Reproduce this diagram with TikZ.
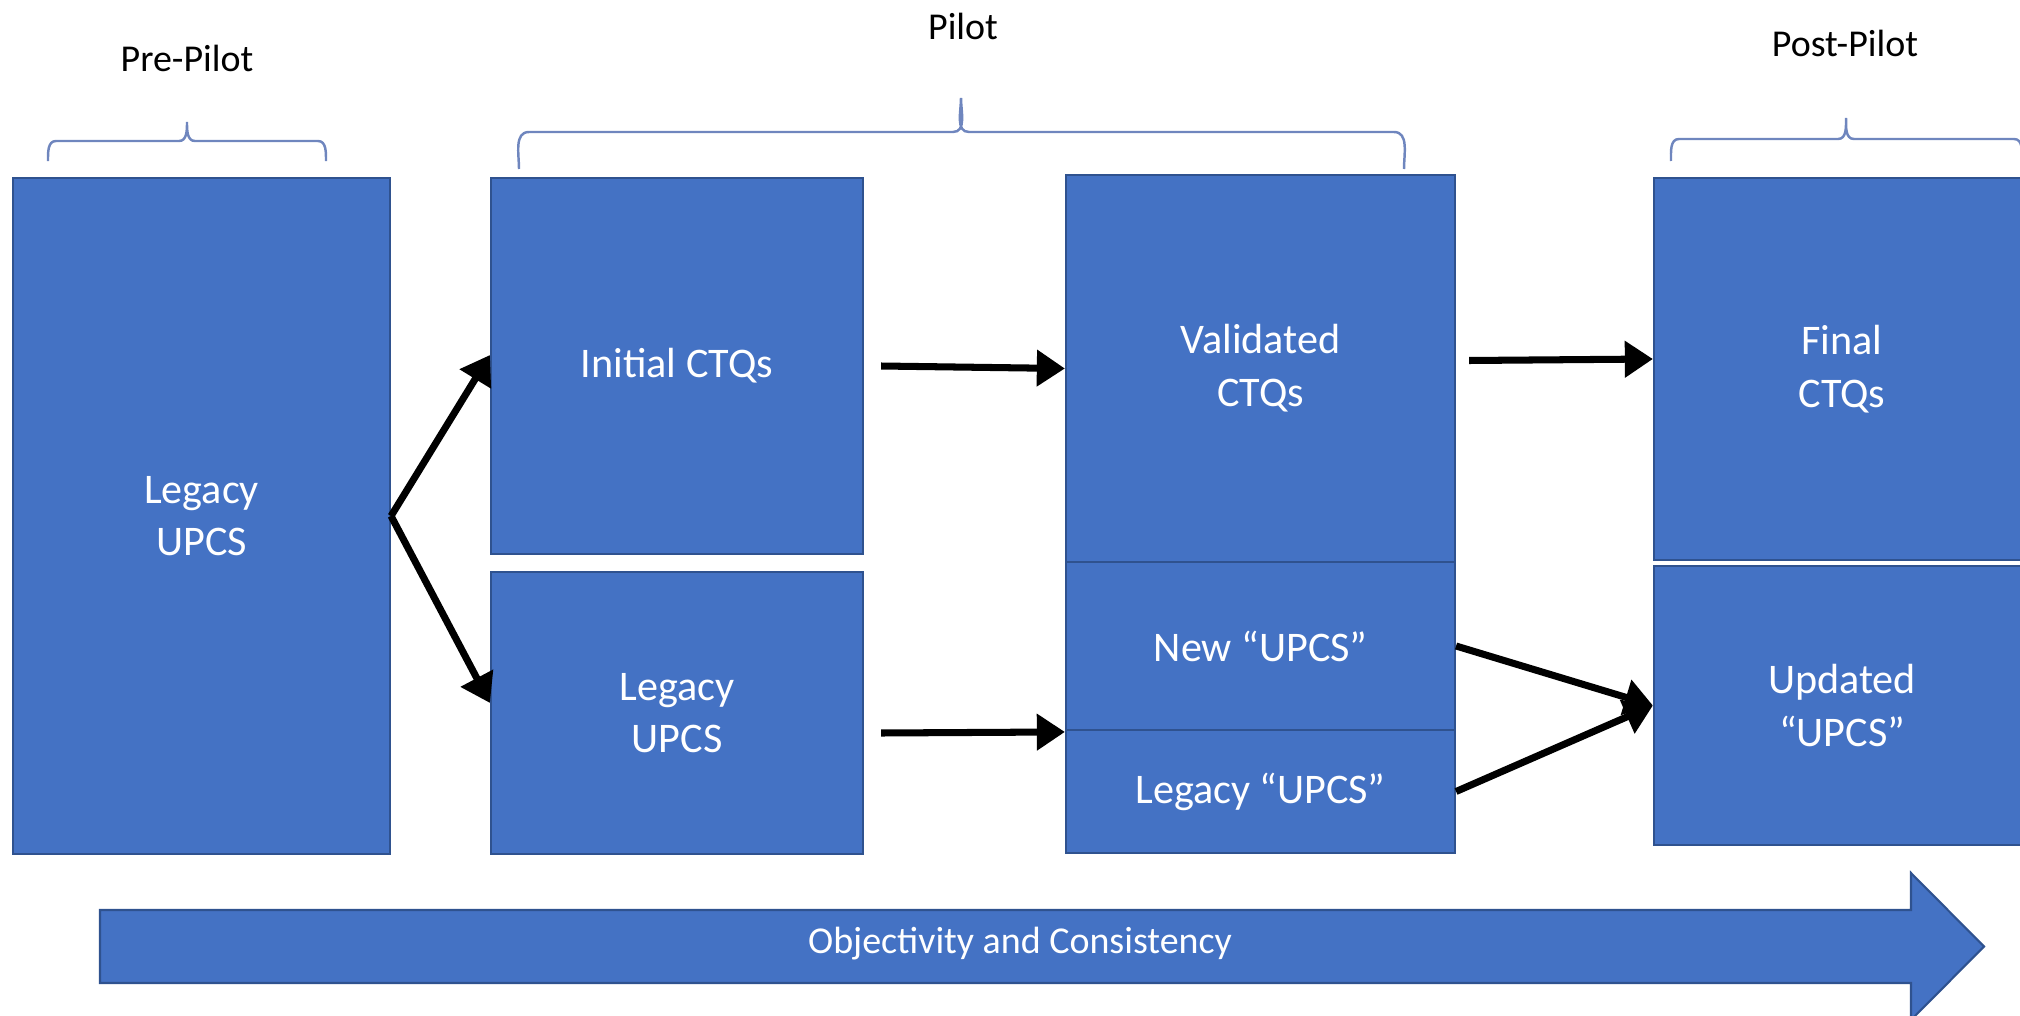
\documentclass[tikz,border=0pt]{standalone}
\usepackage{fontspec}
\setmainfont{Carlito}
\usepackage{tikz}
\usetikzlibrary{arrows.meta}

\definecolor{boxblue}{HTML}{4472C4}
\definecolor{edgeblue}{HTML}{2F528F}
\definecolor{bracegray}{HTML}{6F86BE}

\tikzset{
  stage/.style={draw=edgeblue, line width=0.6pt, fill=boxblue, text=white,
    align=center, inner sep=0pt, font=\fontsize{12}{15}\selectfont},
  phase/.style={font=\fontsize{10.8}{13}\selectfont},
  flow/.style={line width=2pt, -{Triangle[length=8pt,width=10pt]}},
  curly/.style={bracegray, line width=0.7pt}
}

\begin{document}
\begin{tikzpicture}
    \useasboundingbox (0,0) rectangle (20.20,-10.16);

    % Phase labels
    \node[phase] (prepilot) at (1.87,-0.58) {Pre-Pilot};
    \node[phase] (pilot) at (9.63,-0.26) {Pilot};
    \node[phase] (postpilot) at (18.45,-0.43) {Post-Pilot};

    % Braces
    \draw[curly] (0.48,-1.61) to[out=90,in=180] (0.56,-1.41) -- (1.79,-1.41)
        to[out=0,in=-90] (1.87,-1.22) to[out=-90,in=180] (1.95,-1.41) -- (3.18,-1.41)
        to[out=0,in=90] (3.26,-1.61);
    \draw[curly] (5.19,-1.69) to[out=90,in=180] (5.29,-1.32) -- (9.53,-1.32)
        to[out=0,in=-90] (9.61,-0.98) to[out=-90,in=180] (9.69,-1.32) -- (13.94,-1.32)
        to[out=0,in=90] (14.04,-1.69);
    \draw[curly] (16.71,-1.61) to[out=90,in=180] (16.79,-1.39) -- (18.38,-1.39)
        to[out=0,in=-90] (18.46,-1.18) to[out=-90,in=180] (18.54,-1.39) -- (20.14,-1.39)
        to[out=0,in=90] (20.22,-1.61);

    % Stages
    \node[stage, minimum width=3.77cm, minimum height=6.76cm] (legacy) at (2.015,-5.16) {Legacy\\UPCS};
    \node[stage, minimum width=3.72cm, minimum height=3.76cm] (init) at (6.77,-3.66) {Initial CTQs};
    \node[stage, minimum width=3.72cm, minimum height=2.82cm] (legacyb) at (6.77,-7.13) {Legacy\\UPCS};
    \node[stage, minimum width=3.89cm, minimum height=3.87cm] (valid) at (12.605,-3.685) {Validated\\CTQs};
    \node[stage, minimum width=3.89cm, minimum height=1.68cm] (newu) at (12.605,-6.46) {New “UPCS”};
    \node[stage, minimum width=3.89cm, minimum height=1.23cm] (oldu) at (12.605,-7.915) {Legacy “UPCS”};
    \node[stage, minimum width=3.76cm, minimum height=3.82cm] (final) at (18.42,-3.69) {Final\\CTQs};
    \node[stage, minimum width=3.76cm, minimum height=2.79cm] (upd) at (18.42,-7.055) {Updated\\“UPCS”};

    % Flows
    \draw[flow] (legacy.east) -- ([yshift=0.11cm]init.west);
    \draw[flow] (legacy.east) -- ([yshift=0.10cm]legacyb.west);
    \draw[flow] ([xshift=0.17cm]init.east) -- (valid.west);
    \draw[flow] ([xshift=0.17cm,yshift=-0.20cm]legacyb.east) -- ([yshift=-0.03cm]oldu.north west);
    \draw[flow] ([xshift=0.13cm,yshift=0.08cm]valid.east) -- ([yshift=0.10cm]final.west);
    \draw[flow] (newu.east) -- (upd.west);
    \draw[flow] (oldu.east) -- (upd.west);

    % Bottom arrow
    \fill[boxblue, draw=edgeblue, line width=0.6pt] (1.00,-9.10) -- (19.11,-9.10) -- (19.11,-8.73)
        -- (19.84,-9.465) -- (19.11,-10.20) -- (19.11,-9.83) -- (1.00,-9.83) -- cycle;
    \node[phase, text=white] (trend) at (10.20,-9.44) {Objectivity and Consistency};
\end{tikzpicture}
\end{document}
